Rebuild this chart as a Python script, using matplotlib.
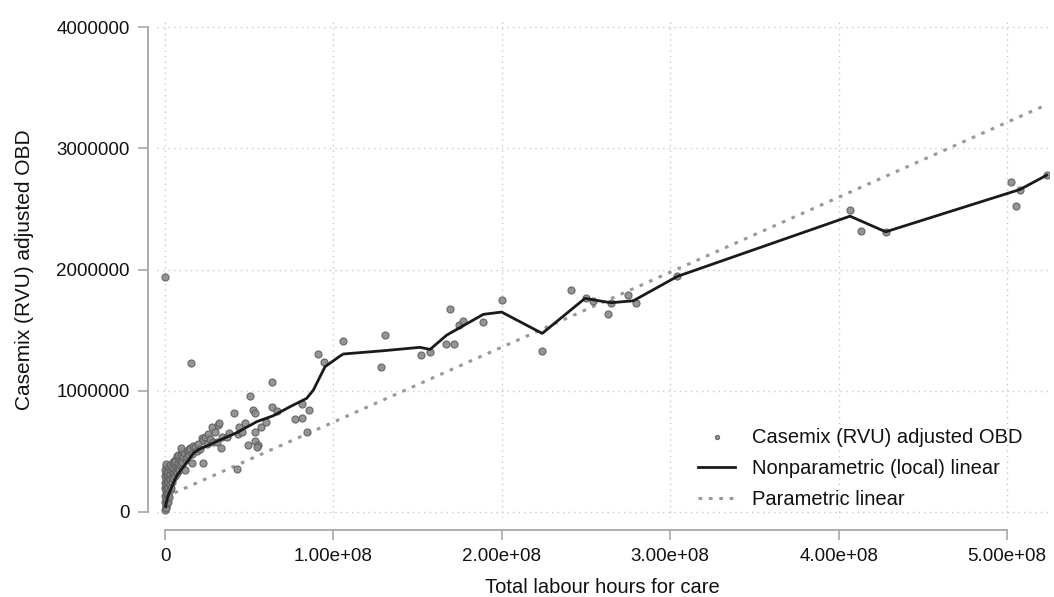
import matplotlib
matplotlib.use("Agg")
import matplotlib.pyplot as plt
import numpy as np

plt.rcParams["font.family"] = ["Liberation Sans", "DejaVu Sans"]

# Observed hospitals: total labour hours (millions) and casemix-adjusted OBD (thousands)
hours_m = [
    0.2, 0.3, 0.5, 0.1, 0.4, 0.2, 0.6, 0.3, 0.1, 0.5, 0.2, 0.7, 0.3, 0.1, 0.5, 0.2, 0.4, 0.6,
    0.8, 1.0, 1.2, 0.9, 1.1, 1.3, 1.0, 1.4, 1.2, 1.5, 1.8, 2.0, 1.7, 2.1, 1.9, 2.3,
    2.5, 2.7, 3.0, 2.8, 3.2, 3.5, 3.0, 3.8, 4.0, 4.2, 4.5, 4.0, 4.8, 5.0, 5.3, 5.6, 5.2, 5.9,
    6.0, 6.4, 6.8, 6.2, 7.0, 7.3, 7.6, 7.9, 8.2, 7.9, 8.5, 8.8, 9.2, 9.5, 9.9, 9.9,
    10.3, 10.8, 11.2, 11.9, 12.3, 12.9, 13.4, 13.8, 14.5, 14.8, 15.0, 15.8, 16.3, 16.8,
    17.8, 18.8, 19.5, 20.5, 21.8, 22.4, 22.8, 23.8, 24.8, 25.5, 26.7, 27.7, 28.5, 29.7,
    30.7, 31.7, 32.2, 33.1, 34.0, 36.6, 38.0, 41.0, 42.6, 43.5, 44.0, 46.0, 47.5, 49.1,
    50.5, 52.4, 53.4, 53.4, 53.4, 55.0, 54.5, 57.0, 60.0, 63.7, 63.7, 66.7, 77.2, 81.2,
    81.5, 84.5, 85.5, 91.0, 94.6, 15.3, 0.0, 9.5,
    105.9, 128.3, 130.6, 151.8, 157.4, 166.7, 171.8, 169.4, 174.8, 176.8, 188.8, 200.1,
    224.0, 241.1, 250.0, 254.3, 262.9, 264.7, 275.1, 279.5, 304.2, 406.8, 413.3, 428.0,
    502.4, 505.3, 507.7, 523.6,
]
obd_k = [
    20, 45, 60, 80, 100, 130, 150, 175, 200, 215, 240, 260, 285, 300, 320, 350, 380, 395,
    30, 70, 110, 160, 190, 230, 270, 305, 340, 80, 140, 200, 250, 290, 330, 370,
    120, 180, 230, 270, 310, 350, 390, 200, 250, 290, 330, 370, 410, 280, 320, 360, 400, 430,
    300, 340, 380, 420, 460, 320, 360, 400, 440, 470, 350, 390, 430, 470, 500, 387,
    410, 450, 490, 346, 430, 456, 500, 511, 470, 525, 520, 401, 480, 540,
    538, 500, 560, 520, 607, 401, 594, 621, 560, 640, 599, 703, 580, 662,
    580, 717, 731, 525, 620, 621, 650, 814, 352, 640, 700, 660, 730, 555,
    956, 840, 820, 660, 588, 550, 538, 700, 740, 868, 1074, 833, 770, 890,
    777, 662, 840, 1300, 1240, 1226, 1940, 528,
    1410, 1193, 1457, 1297, 1317, 1383, 1388, 1676, 1542, 1575, 1566, 1745,
    1330, 1830, 1762, 1742, 1635, 1726, 1786, 1720, 1943, 2490, 2317, 2311,
    2723, 2525, 2660, 2778,
]

# Nonparametric (local) linear fit, evaluated along the hours axis
fit_hours_m = [
    0.3, 1.0, 2.0, 4.9, 7.0, 10.9, 14.0, 16.8, 20.0, 23.8, 32.7, 42.6, 54.5, 64.3, 74.2,
    84.1, 88.1, 95.0, 103.9, 105.9, 129.6, 151.4, 157.4, 167.3, 189.0, 199.9, 224.0,
    249.4, 254.3, 264.7, 278.1, 304.2, 406.8, 428.0, 507.7, 523.6,
]
fit_obd_k = [
    44, 90, 140, 237, 300, 373, 430, 484, 515, 538, 594, 654, 745, 794, 868,
    937, 1006, 1198, 1286, 1303, 1330, 1358, 1341, 1459, 1630, 1649, 1473,
    1762, 1750, 1726, 1742, 1943, 2440, 2311, 2660, 2778,
]

# Parametric linear fit: OBD = intercept + slope * hours
lin_intercept = 123000.0
lin_slope = 0.006182

x_ticks = [0, 1e8, 2e8, 3e8, 4e8, 5e8]
x_tick_labels = ["0", "1.00e+08", "2.00e+08", "3.00e+08", "4.00e+08", "5.00e+08"]
y_ticks = [0, 1000000, 2000000, 3000000, 4000000]
y_tick_labels = ["0", "1000000", "2000000", "3000000", "4000000"]

x = np.array(hours_m) * 1e6
y = np.array(obd_k) * 1e3
fx = np.array(fit_hours_m) * 1e6
fy = np.array(fit_obd_k) * 1e3
lx = np.array([x.min(), x.max()])
ly = lin_intercept + lin_slope * lx

fig = plt.figure(figsize=(10.54, 5.97), dpi=100)
ax = fig.add_axes([0.1486, 0.1323, 0.8467, 0.8325])

grid_kw = dict(color="#c8c8c8", lw=1.0, ls=(0, (1, 3)), zorder=0)
for t in x_ticks:
    ax.axvline(t, **grid_kw)
for t in y_ticks:
    ax.axhline(t, **grid_kw)

ax.scatter(x, y, s=26, facecolor="#8a8a8a", edgecolor="#5e5e5e", linewidth=0.8,
           alpha=0.9, zorder=3, label="Casemix (RVU) adjusted OBD")
ax.plot(fx, fy, color="#1a1a1a", lw=2.0, zorder=4,
        label="Nonparametric (local) linear")
ax.plot(lx, ly, color="#999999", lw=2.2, ls=(0, (1.2, 2.2)), zorder=2,
        label="Parametric linear")

ax.set_xlim(-0.05e8, 5.25e8)
ax.set_ylim(-50000, 4050000)

for side in ("top", "right"):
    ax.spines[side].set_visible(False)
ax.spines["left"].set_position(("outward", 6.2))
ax.spines["bottom"].set_position(("outward", 8.6))
ax.spines["left"].set_bounds(0, 4000000)
ax.spines["bottom"].set_bounds(0, 5e8)
for side in ("left", "bottom"):
    ax.spines[side].set_color("#a8a8a8")
    ax.spines[side].set_linewidth(1.3)

ax.set_xticks(x_ticks)
ax.set_xticklabels(x_tick_labels)
ax.set_yticks(y_ticks)
ax.set_yticklabels(y_tick_labels)
ax.tick_params(axis="both", direction="out", length=7, width=1.2, color="#a8a8a8",
               labelsize=13.5, labelcolor="#111111", pad=6)

ax.set_xlabel("Total labour hours for care", fontsize=14.5, color="#111111", labelpad=9)
ax.set_ylabel("Casemix (RVU) adjusted OBD", fontsize=15, color="#111111", labelpad=16)

leg = ax.legend(loc="upper left", bbox_to_anchor=(0.6622, 0.2836),
                bbox_transform=fig.transFigure, frameon=False, fontsize=14.5,
                borderpad=0, borderaxespad=0, handlelength=1.85, handletextpad=0.85,
                labelspacing=0.6, markerscale=0.6)
for t in leg.get_texts():
    t.set_color("#111111")

fig.savefig("out.png", dpi=100)
